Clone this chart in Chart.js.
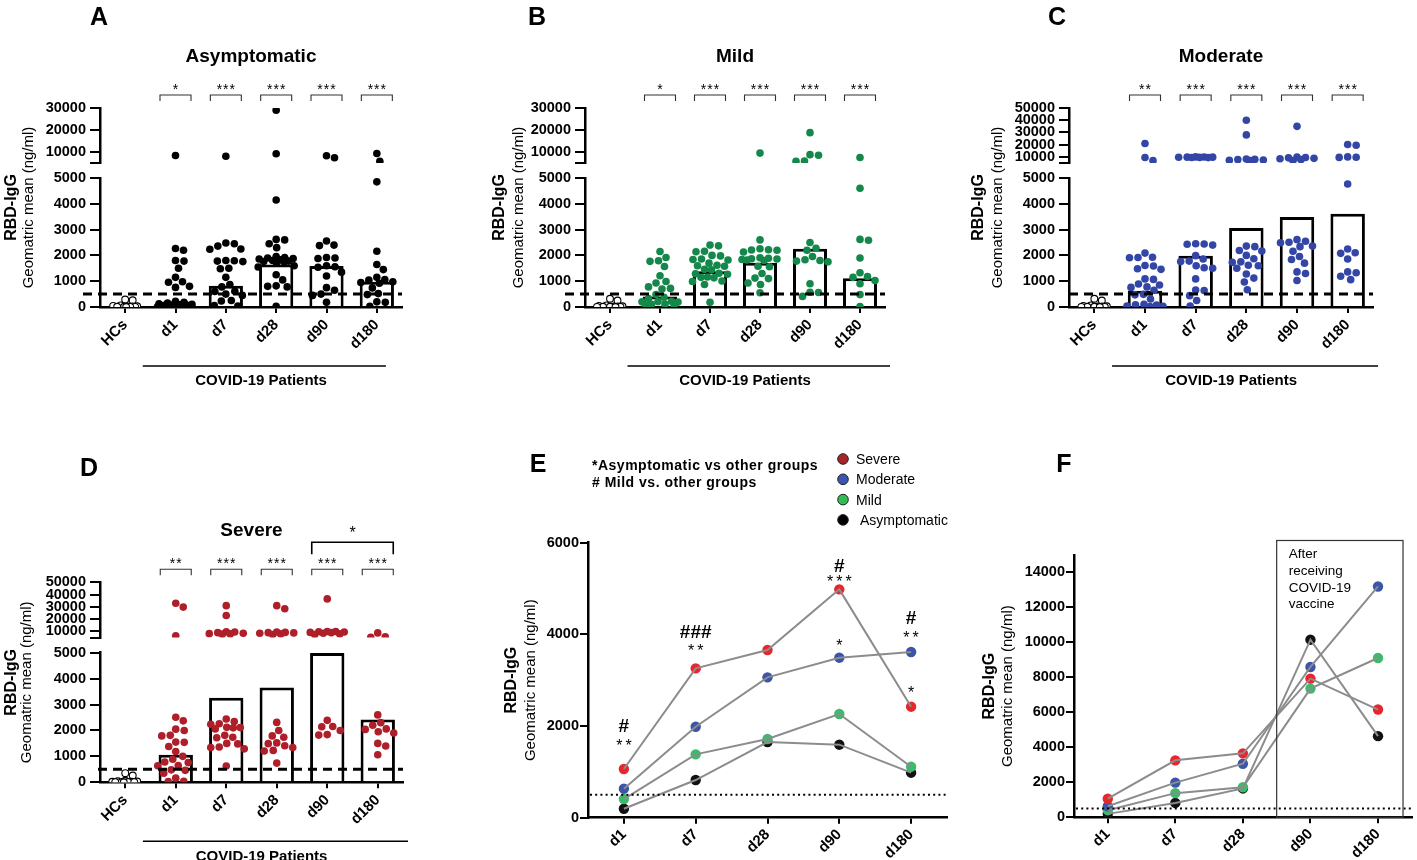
<!DOCTYPE html>
<html><head><meta charset="utf-8">
<script src="https://cdn.jsdelivr.net/npm/chart.js@4.4.1/dist/chart.umd.min.js"></script>
<style>
html,body{margin:0;padding:0;background:#fff;width:1417px;height:860px;overflow:hidden;}
canvas{position:absolute;left:0;top:0;}
</style></head><body>
<script>
// ---------------- DATA ----------------
const timepoints = ['HCs','d1','d7','d28','d90','d180'];
const lineTimepoints = ['d1','d7','d28','d90','d180'];
const lowerTicks = [0,1000,2000,3000,4000,5000];
const upperTicksAB = [10000,20000,30000];
const upperTicksCD = [10000,20000,30000,40000,50000];
const eTicks = [0,2000,4000,6000];
const fTicks = [0,2000,4000,6000,8000,10000,12000,14000];
const cutoff = 500;
const breakValue = 5000;

const asymPoints = [
 [290,260,60,40,30,20,20,10,10,5,5,0],
 [8400,2270,2200,1800,1780,1500,1150,980,960,800,760,220,180,150,120,100,90,80,70,60,50,40,30,20,10],
 [8100,2480,2450,2360,2250,2240,1800,1790,1780,1760,1500,1480,1150,870,780,610,600,500,450,250,230,60,40],
 [29000,9200,4150,2620,2600,2450,2300,1960,1920,1900,1880,1860,1830,1800,1780,1760,1740,1700,1600,1550,1250,1050,820,800,780,30],
 [8300,7400,2560,2400,2380,1920,1900,1880,1600,1560,1540,1350,1200,750,650,500,450,180],
 [9300,5800,4850,2160,1650,1450,1150,1060,1040,980,950,920,740,520,480,200,180,30]
];
const asymGM = [30,196,822,1651,1593,982];
const asymSig = ['*','***','***','***','***'];

const mildPoints = [
 [320,250,60,40,30,20,20,10,10,5,5,0],
 [2150,1920,1790,1770,1570,1210,990,930,780,720,700,480,380,330,220,210,200,190,110,100,60,20],
 [2400,2370,2160,2140,2000,1980,1860,1840,1820,1700,1620,1600,1580,1460,1440,1310,1290,1270,1160,1150,1130,1010,990,870,180],
 [9500,2600,2260,2220,2210,2200,2130,1910,1890,1870,1860,1840,1820,1800,1580,1560,1300,1120,1100,930,870,550],
 [18800,8800,8500,5900,5800,2500,2280,2200,1960,1830,1800,1780,1750,900,570,560,410],
 [7500,4600,2620,2590,1900,1330,1180,1150,1030,900,480,20]
];
const mildGM = [30,407,1382,1716,2262,1113];
const mildSig = ['*','***','***','***','***'];

const moderatePoints = [
 [320,250,60,40,30,20,20,10,10,5,5,0],
 [21000,9500,7000,2090,1930,1920,1910,1610,1590,1480,1460,1090,1070,890,850,780,760,650,490,470,310,100,90,80,40,30,20],
 [10000,9900,9800,9800,9700,9600,9500,9400,2450,2440,2430,2400,1990,1860,1780,1760,1600,1520,1500,1090,660,640,440,250,40],
 [40000,28000,8200,8000,7800,7500,7200,7000,2360,2340,2190,2170,2000,1870,1750,1730,1620,1600,1500,1280,1120,970,670],
 [35000,9800,9500,9200,8800,8500,7800,7000,2610,2550,2510,2490,2360,2340,2160,1960,1840,1700,1360,1300,1030],
 [20100,19500,10000,9700,9600,4770,2250,2100,2080,1860,1360,1330,1190,1060]
];
const moderateGM = [30,633,1985,3062,3491,3615];
const moderateSig = ['**','***','***','***','***'];

const severePoints = [
 [350,260,60,40,30,20,20,10,10,5,5,0],
 [33000,29800,6500,2510,2370,2050,2000,1810,1790,1550,1540,1380,1190,1000,890,780,760,650,640,480,460,350,160,40,30],
 [31000,23000,9800,9500,9000,8500,8200,8000,7800,2440,2340,2260,2240,2120,2110,2100,2060,1810,1740,1720,1500,1480,1360,1340,1290,630],
 [31000,28500,9500,9200,9000,8800,8500,8000,7500,2310,2000,1790,1740,1520,1490,1410,1340,1230,1210,740],
 [36500,10000,9900,9700,9500,9200,9000,8500,8000,7500,2390,2150,2140,2000,1840,1820],
 [8800,5300,5600,2600,2300,2200,2060,2040,1950,1900,1500,1400,1060]
];
const severeGM = [30,1062,3258,3658,4982,2422];
const severeSig = ['**','***','***','***','***'];
const severeD90vsD180Sig = '*';

const seriesNames = ['Severe','Moderate','Mild','Asymptomatic'];
// Panel E: geometric means over time (same as the bars of A-D)
const eSevere = [1062,3258,3658,4982,2422];
const eModerate = [633,1985,3062,3491,3615];
const eMild = [407,1382,1716,2262,1113];
const eAsym = [196,822,1651,1593,982];
const eMarks = [
 {t:'d1', v:2020, s:'#'}, {t:'d1', v:1655, s:'**'},
 {t:'d7', v:4080, s:'###'}, {t:'d7', v:3720, s:'**'},
 {t:'d90', v:5515, s:'#'}, {t:'d90', v:5225, s:'***'}, {t:'d90', v:3840, s:'*'},
 {t:'d180', v:4385, s:'#'}, {t:'d180', v:4000, s:'**'}, {t:'d180', v:2800, s:'*'}
];
// Panel F: including post-vaccination time points
const fSevere = [1062,3258,3658,7931,6162];
const fModerate = [633,1985,3062,8597,13200];
const fMild = [407,1382,1716,7361,9111];
const fAsym = [196,822,1651,10157,4641];
const fBoxText = ['After','receiving','COVID-19','vaccine'];

// ---------------- RENDERING ----------------
const FONT = '"Liberation Sans", Arial, Helvetica, sans-serif';
Chart.defaults.font.family = FONT;
Chart.defaults.color = '#000';
const W = 1417, H = 860, YW = 60;

function mkCanvas(){ const c=document.createElement('canvas'); c.width=W; c.height=H; c.style.width=W+'px'; c.style.height=H+'px'; document.body.appendChild(c); return c; }
function setFont(ctx,size,weight){ ctx.font = (weight||'normal')+' '+size+'px '+FONT; }
function capText(ctx,s,x,cy,size,weight,align,spacing){
  ctx.save(); setFont(ctx,size,weight); ctx.fillStyle='#000'; ctx.textAlign=align||'center'; ctx.textBaseline='alphabetic';
  if(spacing) ctx.letterSpacing=spacing+'px';
  ctx.fillText(s,x,cy+0.358*size); ctx.restore();
}
function starText(ctx,s,x,cy,size,spacing){
  ctx.save(); setFont(ctx,size,'normal'); ctx.fillStyle='#000'; ctx.textAlign='center'; ctx.textBaseline='alphabetic';
  if(spacing) ctx.letterSpacing=spacing+'px';
  ctx.fillText(s,x+(spacing||0)/2,cy+0.57*size); ctx.restore();
}
function vText(ctx,s,cx,cy,size,weight){
  ctx.save(); ctx.translate(cx,cy); ctx.rotate(-Math.PI/2); setFont(ctx,size,weight); ctx.fillStyle='#000';
  ctx.textAlign='center'; ctx.textBaseline='alphabetic'; ctx.fillText(s,0,0.358*size); ctx.restore();
}
function line(ctx,pts,w,color,dash){
  ctx.save(); ctx.strokeStyle=color||'#000'; ctx.lineWidth=w; if(dash) ctx.setLineDash(dash);
  ctx.beginPath(); ctx.moveTo(pts[0][0],pts[0][1]); for(let i=1;i<pts.length;i++) ctx.lineTo(pts[i][0],pts[i][1]); ctx.stroke(); ctx.restore();
}

function swarm(ys, r, half){
  const order = ys.map((_,i)=>i).sort((a,b)=>ys[a]-ys[b]);
  const placed=[], out=new Array(ys.length), d=2*r+0.6;
  for(const i of order){
    const y=ys[i]; let best=0, bestScore=-Infinity;
    const n = Math.ceil(half/0.5);
    for(let k=0;k<=2*n;k++){
      const step = Math.ceil(k/2)*0.5*(k%2?1:-1);
      let minD=Infinity;
      for(const p of placed){ const dd=Math.hypot(p.x-step,p.y-y); if(dd<minD) minD=dd; }
      if(minD>=d){ best=step; bestScore=Infinity; break; }
      if(minD>bestScore+0.01){ bestScore=minD; best=step; }
    }
    placed.push({x:best,y}); out[i]=best;
  }
  return out;
}

const yTickStyle = (pad)=>({color:'#000', font:{size:14.5, weight:'bold'}, padding:pad, autoSkip:false});
const yGrid = (len)=>({display:true, drawOnChartArea:false, drawTicks:true, tickLength:len, color:'#000', lineWidth:2});
const yBorder = {display:true, color:'#000', width:2.5};

function barPanel(p){
  const cv = mkCanvas();
  const hcs=[], low=[], up=[];
  p.points.forEach((arr,i)=>arr.forEach(v=>{
    const o={x:i,y:v,cat:i};
    if(i===0) hcs.push(o); else if(v>breakValue) up.push(o); else low.push(o);
  }));
  const pt = (data,axis,fill,stroke,r,bw)=>({type:'scatter', data, xAxisID:'xs', yAxisID:axis, order:1,
     pointRadius:r, pointHoverRadius:r, pointBackgroundColor:fill, pointBorderColor:stroke, pointBorderWidth:bw, showLine:false});
  const deco = {
    id:'deco'+p.letter,
    afterDraw(chart){
      const ctx=chart.ctx, a=chart.chartArea, x=chart.scales.x, xs=chart.scales.xs, yl=chart.scales.yLow;
      capText(ctx,p.letter,p.letterPos[0],p.letterPos[1],25,'bold');
      capText(ctx,p.title,(a.left+a.right)/2,a.top-53,19,'bold');
      const cy=(a.top+a.bottom)/2;
      vText(ctx,'RBD-IgG',a.left+p.ytOff[0],cy,16,'bold');
      vText(ctx,'Geomatric mean (ng/ml)',a.left+p.ytOff[1],cy,15,'normal');
      const ty=yl.getPixelForValue(cutoff);
      line(ctx,[[a.left+p.dashStart,ty],[a.right,ty]],3,'#000',[9,6]);
      p.sig.forEach((s,k)=>{
        const cx=x.getPixelForValue(k+1);
        line(ctx,[[cx-15.5,a.top-7],[cx-15.5,a.top-13],[cx+15.5,a.top-13],[cx+15.5,a.top-7]],1.1,'#333');
        starText(ctx,s,cx,a.top-22,14,1);
      });
      if(p.bigSig){
        const x1=x.getPixelForValue(4)-15.5, x2=x.getPixelForValue(5)+15.5;
        line(ctx,[[x1,a.top-28],[x1,a.top-40],[x2,a.top-40],[x2,a.top-28]],1.6,'#000');
        starText(ctx,p.bigSig,(x1+x2)/2,a.top-53,16,0);
      }
      const gy=a.bottom+59;
      line(ctx,[[xs.getPixelForValue(0.35),gy],[xs.getPixelForValue(p.lineEnd),gy]],1.4,'#000');
      capText(ctx,'COVID-19 Patients',xs.getPixelForValue(2.7),a.bottom+73,15,'bold');
    }
  };
  const chart = new Chart(cv,{
    type:'bar',
    data:{labels:timepoints, datasets:[
      {type:'bar', data:p.gm, xAxisID:'x', yAxisID:'yLow', backgroundColor:'#fff', borderColor:'#000', borderWidth:3,
       barPercentage:0.68, categoryPercentage:1, grouped:false, order:2},
      pt(low,'yLow',p.color,p.color,3.8,0),
      pt(up,'yUp',p.color,p.color,3.8,0),
      pt(hcs,'yLow','#fff','#000',3.4,1.1)
    ]},
    options:{
      responsive:false, animation:false, events:[],
      layout:{padding:{left:p.left-YW, right:W-p.right, top:p.top, bottom:H-p.bottom-60}},
      plugins:{legend:{display:false}, tooltip:{enabled:false}},
      scales:{
        x:{type:'category', position:'bottom', offset:true,
           grid:{display:true, offset:false, drawOnChartArea:false, tickLength:6, color:'#000', lineWidth:2},
           border:{display:true,color:'#000',width:2.5},
           ticks:{color:'#000', font:{size:15, weight:'bold'}, minRotation:45, maxRotation:45, autoSkip:false, padding:3},
           afterFit(s){ s.height=60; }},
        xs:{type:'linear', display:false, min:-0.5, max:5.5, offset:false},
        yLow:{type:'linear', position:'left', stack:'y', stackWeight:129, min:0, max:5000,
           grid:yGrid(10), border:yBorder, ticks:{...yTickStyle(4), callback:v=>String(v)},
           afterBuildTicks(s){ s.ticks=lowerTicks.map(v=>({value:v})); }, afterFit(s){ s.width=YW; }},
        yGap:{type:'linear', position:'left', stack:'y', stackWeight:15, min:0, max:1,
           grid:{display:false}, border:{display:false}, ticks:{display:false}, afterFit(s){ s.width=YW; }},
        yUp:{type:'linear', position:'left', stack:'y', stackWeight:55, min:breakValue, max:p.upperTicks[p.upperTicks.length-1],
           grid:yGrid(10), border:yBorder, ticks:{...yTickStyle(4), callback:v=>(v===breakValue?'':String(v))},
           afterBuildTicks(s){ s.ticks=[breakValue].concat(p.upperTicks).map(v=>({value:v})); }, afterFit(s){ s.width=YW; }}
      }
    },
    plugins:[deco]
  });
  // beeswarm layout of the points in pixel space
  const xs=chart.scales.xs; const unit=xs.getPixelForValue(1)-xs.getPixelForValue(0);
  const groups={};
  [1,2,3].forEach(di=>{
    const ds=chart.data.datasets[di]; const ys=chart.scales[ds.yAxisID];
    ds.data.forEach(o=>{ (groups[o.cat]=groups[o.cat]||[]).push({o,py:ys.getPixelForValue(o.y),r:ds.pointRadius}); });
  });
  Object.keys(groups).forEach(c=>{
    const g=groups[c]; const offs=swarm(g.map(q=>q.py),g[0].r,+c===0?13:18);
    g.forEach((q,i)=>{ q.o.x=q.o.cat+offs[i]/unit; });
  });
  [1,2,3].forEach(di=>{ const ds=chart.data.datasets[di]; ds.data=ds.data.map(o=>({x:o.x,y:o.y,cat:o.cat})); });
  chart.update('none');
  return chart;
}

barPanel({letter:'A', letterPos:[99,16], title:'Asymptomatic', color:'#000', points:asymPoints, gm:asymGM, sig:asymSig,
  left:100, right:402, top:108, bottom:307, upperTicks:upperTicksAB, lineEnd:5.18, ytOff:[-90,-72], dashStart:-17});
barPanel({letter:'B', letterPos:[537,16], title:'Mild', color:'#14884a', points:mildPoints, gm:mildGM, sig:mildSig,
  left:585, right:885, top:108, bottom:307, upperTicks:upperTicksAB, lineEnd:5.6, ytOff:[-87,-67], dashStart:-20});
barPanel({letter:'C', letterPos:[1057,16], title:'Moderate', color:'#3346a6', points:moderatePoints, gm:moderateGM, sig:moderateSig,
  left:1069, right:1373, top:108, bottom:307, upperTicks:upperTicksCD, lineEnd:5.6, ytOff:[-92,-72], dashStart:0});
barPanel({letter:'D', letterPos:[89,467], title:'Severe', color:'#ae1f2a', points:severePoints, gm:severeGM, sig:severeSig, bigSig:severeD90vsD180Sig,
  left:100, right:403, top:582.3, bottom:782.3, upperTicks:upperTicksCD, lineEnd:5.6, ytOff:[-90,-74], dashStart:-2});

const pointColors = ['#e8262b','#3b55a8','#3dba6c','#111111'];
const legendColors = ['#a8232a','#3a56b2','#35bb55','#000000'];

function linePanel(p){
  const cv=mkCanvas();
  const datasets=[];
  p.series.forEach((vals,k)=>{
    datasets.push({type:'line', data:vals, borderColor:'#8c8c8c', borderWidth:2, pointRadius:0, tension:0, fill:false, order:0});
    datasets.push({type:'line', data:vals, showLine:false, pointRadius:5.2, pointHoverRadius:5.2,
      pointBackgroundColor:pointColors[k], pointBorderColor:pointColors[k], pointBorderWidth:0, order:1+k});
  });
  const deco={
    id:'deco'+p.letter,
    afterDraw(chart){
      const ctx=chart.ctx, a=chart.chartArea, x=chart.scales.x, y=chart.scales.y;
      capText(ctx,p.letter,p.letterPos[0],p.letterPos[1],25,'bold');
      const cy=(a.top+a.bottom)/2;
      vText(ctx,'RBD-IgG',a.left+p.ytOff[0],cy,16,'bold');
      vText(ctx,'Geomatric mean (ng/ml)',a.left+p.ytOff[1],cy,15,'normal');
      const ty=y.getPixelForValue(cutoff);
      line(ctx,[[a.left+2,ty],[a.right,ty]],2,'#000',[2,3.2]);
      if(p.extra) p.extra(chart,ctx,a,x,y);
    }
  };
  new Chart(cv,{
    type:'line',
    data:{labels:lineTimepoints, datasets},
    options:{
      responsive:false, animation:false, events:[],
      layout:{padding:{left:p.left-YW, right:W-p.right, top:p.top, bottom:Math.max(0,H-p.bottom-40)}},
      plugins:{legend:{display:false}, tooltip:{enabled:false}},
      scales:{
        x:{type:'category', offset:true,
           grid:{display:true, offset:false, drawOnChartArea:false, tickLength:6, color:'#000', lineWidth:2},
           border:{display:true,color:'#000',width:2.5},
           ticks:{color:'#000', font:{size:15, weight:'bold'}, minRotation:45, maxRotation:45, autoSkip:false, padding:2},
           afterFit(s){ s.height=40; }},
        y:{type:'linear', min:0, max:p.ymax, grid:yGrid(8), border:yBorder,
           ticks:{...yTickStyle(1), callback:v=>String(v)},
           afterBuildTicks(s){ s.ticks=p.ticks.map(v=>({value:v})); }, afterFit(s){ s.width=YW; }}
      }
    },
    plugins:[deco]
  });
}

linePanel({letter:'E', letterPos:[538,463], left:588, right:947, top:542.7, bottom:817.7, ymax:6000, ticks:eTicks,
  series:[eSevere,eModerate,eMild,eAsym], ytOff:[-78,-58],
  extra(chart,ctx,a,x,y){
    capText(ctx,'*Asymptomatic vs other groups',592,465,14,'bold','left',0.5);
    capText(ctx,'# Mild vs. other groups',592,482,14,'bold','left',0.5);
    seriesNames.forEach((n,k)=>{
      const ly=459+20.3*k;
      ctx.save(); ctx.beginPath(); ctx.arc(843,ly,5.3,0,Math.PI*2); ctx.fillStyle=legendColors[k]; ctx.fill();
      ctx.lineWidth=1; ctx.strokeStyle='#222'; ctx.stroke(); ctx.restore();
      capText(ctx,n,k===3?860:856,ly,14,'normal','left');
    });
    eMarks.forEach(m=>{
      const cx=x.getPixelForValue(lineTimepoints.indexOf(m.t)), cy=y.getPixelForValue(m.v);
      if(m.s[0]==='#') capText(ctx,m.s,cx,cy,19,'bold');
      else starText(ctx,m.s,cx,cy,16,3);
    });
  }});

linePanel({letter:'F', letterPos:[1064,463], left:1074, right:1416, top:555, bottom:817.3, ymax:15000, ticks:fTicks,
  series:[fSevere,fModerate,fMild,fAsym], ytOff:[-86,-67],
  extra(chart,ctx,a,x,y){
    const step=x.getPixelForValue(1)-x.getPixelForValue(0);
    const bx1=x.getPixelForValue(2)+step*0.5, bx2=x.getPixelForValue(4)+step*0.37;
    const by1=y.getPixelForValue(15830), by2=y.getPixelForValue(0);
    ctx.save(); ctx.strokeStyle='#333'; ctx.lineWidth=1.2; ctx.strokeRect(bx1,by1,bx2-bx1,by2-by1); ctx.restore();
    fBoxText.forEach((s,i)=>capText(ctx,s,bx1+12,by1+13+16.6*i,13.5,'normal','left'));
  }});
</script>
</body></html>
